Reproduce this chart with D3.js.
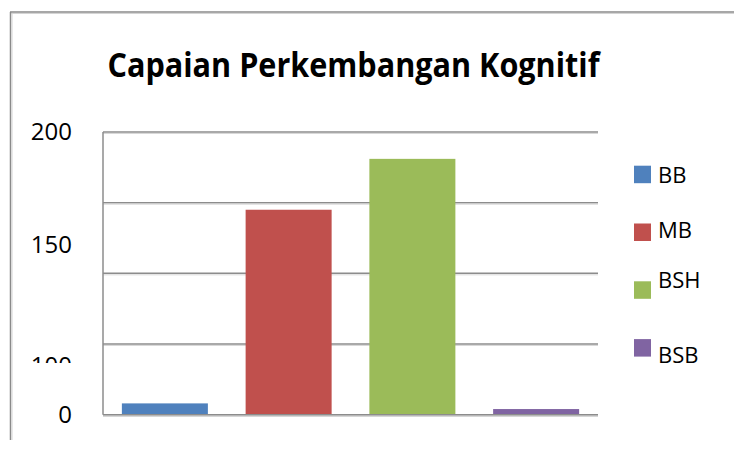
<!DOCTYPE html>
<html>
<head>
<meta charset="utf-8">
<script src="https://cdn.jsdelivr.net/npm/d3@7"></script>
<style>
  html, body { margin: 0; padding: 0; background: #ffffff; }
  svg { display: block; }
  text { font-family: "Open Sans", "Noto Sans", sans-serif; fill: #000; }
</style>
</head>
<body>
<script>
// ---- data ----
const categories = ["BB", "MB", "BSH", "BSB"];
const values = [8, 145, 181, 4];
const colors = ["#4F81BD", "#C0504D", "#9BBB59", "#8064A2"];
const gridValues = [0, 50, 100, 150, 200];
const yTickLabels = ["200", "150", "100", "0"];
const yTickLabelAt = [200, 120.4, 34.8, 0]; // where each (misplaced) label sits on the value axis
const title = "Capaian Perkembangan Kognitif";

// ---- layout ----
const W = 734, H = 449;
const plot = { left: 103, right: 598, top: 132, bottom: 414.7 };

const svg = d3.select("body").append("svg").attr("width", W).attr("height", H);

const x = d3.scaleBand().domain(categories)
  .range([plot.left, plot.right]).paddingInner(0.305).paddingOuter(0.1525);
const y = d3.scaleLinear().domain([0, 200]).range([plot.bottom, plot.top]);

// outer chart frame (top and left edges visible)
const frameCol = "#8a8a8a";
svg.append("line").attr("x1", 10).attr("x2", W).attr("y1", 12).attr("y2", 12)
  .attr("stroke", frameCol).attr("stroke-width", 1.5);
svg.append("line").attr("x1", 10).attr("x2", W).attr("y1", 13.5).attr("y2", 13.5)
  .attr("stroke", "#d4d4d4").attr("stroke-width", 1);
svg.append("line").attr("x1", 10.5).attr("x2", 10.5).attr("y1", 12).attr("y2", 440)
  .attr("stroke", frameCol).attr("stroke-width", 1.5);
svg.append("line").attr("x1", 12).attr("x2", 12).attr("y1", 13).attr("y2", 440)
  .attr("stroke", "#d4d4d4").attr("stroke-width", 1);

// title
const t = svg.append("text").attr("x", (plot.left + plot.right) / 2 + 3).attr("y", 77)
  .attr("text-anchor", "middle").attr("font-weight", "bold").attr("font-size", 34)
  .text(title);
const tw = t.node().getComputedTextLength();
if (tw > 492) t.attr("textLength", 492).attr("lengthAdjust", "spacingAndGlyphs");

// gridlines
const grid = svg.append("g");
grid.selectAll("line.g").data(gridValues).join("line")
  .attr("class", "g")
  .attr("x1", plot.left).attr("x2", plot.right)
  .attr("y1", d => y(d)).attr("y2", d => y(d))
  .attr("stroke", "#8c8c8c").attr("stroke-width", 1.5);
grid.selectAll("line.s").data(gridValues).join("line")
  .attr("class", "s")
  .attr("x1", plot.left).attr("x2", plot.right)
  .attr("y1", d => y(d) + 1.5).attr("y2", d => y(d) + 1.5)
  .attr("stroke", "#d8d8d8").attr("stroke-width", 1);

// value axis line
svg.append("line").attr("x1", plot.left).attr("x2", plot.left)
  .attr("y1", y(200)).attr("y2", y(0))
  .attr("stroke", "#8c8c8c").attr("stroke-width", 1.5);

// bars
svg.append("g").selectAll("rect").data(categories).join("rect")
  .attr("x", d => x(d))
  .attr("width", x.bandwidth())
  .attr("y", (d, i) => y(values[i]))
  .attr("height", (d, i) => y(0) - y(values[i]))
  .attr("fill", (d, i) => colors[i]);

// category axis line (drawn over bars)
svg.append("line").attr("x1", plot.left).attr("x2", plot.right)
  .attr("y1", y(0)).attr("y2", y(0))
  .attr("stroke", "#8c8c8c").attr("stroke-width", 1.5);
svg.append("line").attr("x1", plot.left).attr("x2", plot.right)
  .attr("y1", y(0) + 1.5).attr("y2", y(0) + 1.5)
  .attr("stroke", "#d0d0d0").attr("stroke-width", 1);

// y tick labels (the third one is clipped in the reference)
const defs = svg.append("defs");
yTickLabels.forEach((lab, i) => {
  const cy = y(yTickLabelAt[i]);
  const g = svg.append("g");
  if (lab === "100") {
    defs.append("clipPath").attr("id", "clip100")
      .append("rect").attr("x", 0).attr("y", cy - 40).attr("width", 100).attr("height", 37.5);
    g.attr("clip-path", "url(#clip100)");
  }
  g.append("text").attr("x", 72).attr("y", cy).attr("dy", "0.35em")
    .attr("text-anchor", "end").attr("font-size", 24).text(lab);
});

// legend
const legendTop = 165.7, legendStep = 57.8;
const legendTextBaseline = [17.5, 14, 7, 23.5]; // per-item text offset relative to swatch top
const lg = svg.append("g");
categories.forEach((c, i) => {
  const sy = legendTop + i * legendStep;
  lg.append("rect").attr("x", 634).attr("y", sy).attr("width", 17).attr("height", 17.5)
    .attr("fill", colors[i]);
  lg.append("text").attr("x", 658).attr("y", sy + legendTextBaseline[i])
    .attr("font-size", 22).text(c);
});
</script>
</body>
</html>
